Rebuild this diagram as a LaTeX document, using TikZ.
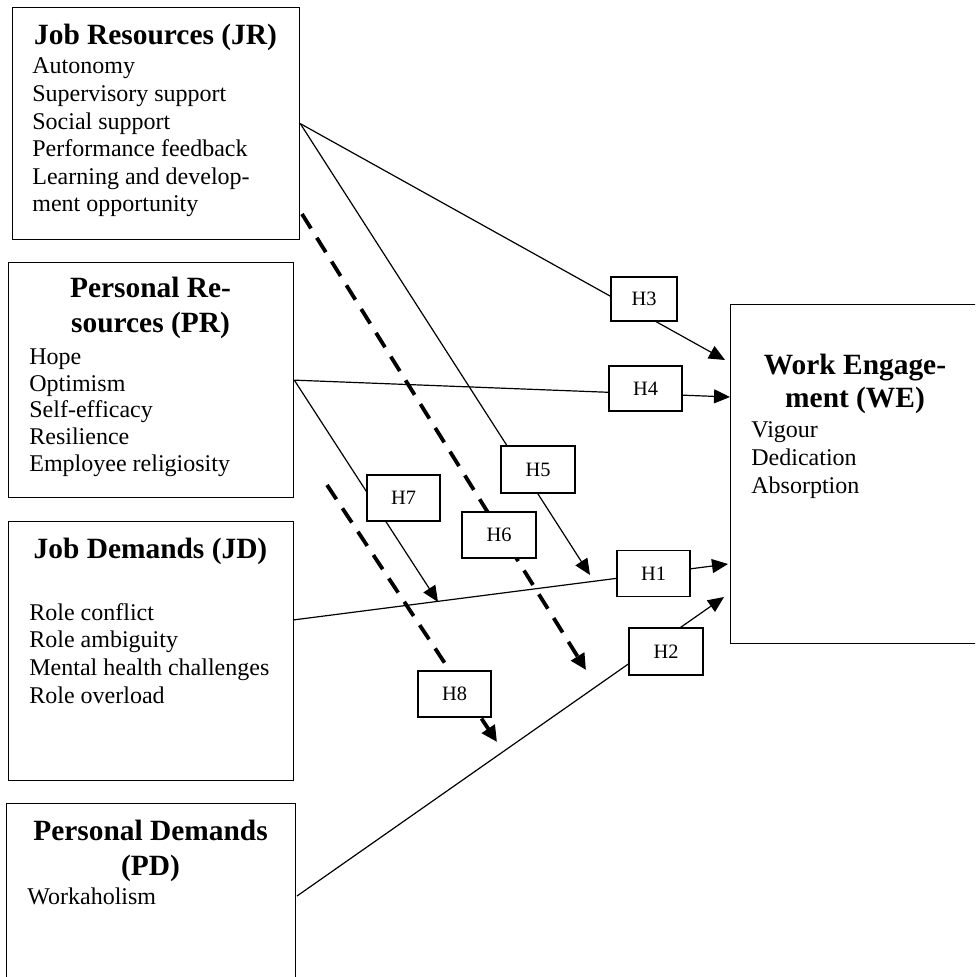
\documentclass[tikz,border=0pt]{standalone}
\usepackage{fontspec}
\setmainfont{Liberation Serif}
\usetikzlibrary{arrows.meta}
\tikzset{
  bigbox/.style={draw, line width=0.65pt, inner sep=0pt, anchor=north west},
  hbox/.style={draw, fill=white, line width=0.65pt, inner sep=0pt, font=\fontsize{10.2}{12}\selectfont},
  ttl/.style={inner sep=0pt, align=center, anchor=base, font=\bfseries\fontsize{14.7}{17.5}\selectfont},
  itm/.style={inner sep=0pt, align=left, anchor=base west, font=\fontsize{12}{13.8}\selectfont},
  conn/.style={line width=0.6pt, -{Triangle[length=8pt,width=7pt]}},
  dconn/.style={line width=1.9pt, dash pattern=on 8.5pt off 5.5pt, -{Triangle[length=8pt,width=7.5pt]}}
}
\begin{document}
\begin{tikzpicture}[x=0.5pt,y=-0.5pt]
\useasboundingbox (0,0) rectangle (975,977);
\clip (0,0) rectangle (975,977);

% main boxes
\node[bigbox, minimum width=143.5pt, minimum height=116pt] (jr) at (12,7) {};
\node[bigbox, minimum width=142.5pt, minimum height=117.5pt] (pr) at (8,262) {};
\node[bigbox, minimum width=142.5pt, minimum height=129.5pt] (jd) at (8,521) {};
\node[bigbox, minimum width=144.5pt, minimum height=110pt] (pd) at (6,803) {};
\node[bigbox, minimum width=125pt, minimum height=169.5pt] (we) at (730,304) {};

% texts (multi-line nodes are placed by the baseline of their last line)
\node[ttl] (jrt) at (155.5,45) {Job Resources (JR)};
\node[itm] (jri) at (32,212) {Autonomy\\Supervisory support\\Social support\\Performance feedback\\Learning and develop-\\ment opportunity};

\node[ttl] (prt) at (150.5,333) {Personal Re-\\sources (PR)};
\node[itm, font=\fontsize{12}{13.3}\selectfont] (pri) at (29,471) {Hope\\Optimism\\Self-efficacy\\Resilience\\Employee religiosity};

\node[ttl] (jdt) at (150.5,558) {Job Demands (JD)};
\node[itm] (jdi) at (29,703) {Role conflict\\Role ambiguity\\Mental health challenges\\Role overload};

\node[ttl] (pdt) at (150.5,875) {Personal Demands\\(PD)};
\node[itm] (pdi) at (27,904) {Workaholism};

\node[ttl, font=\bfseries\fontsize{14.7}{16.5}\selectfont] (wet) at (855,408) {Work Engage-\\ment (WE)};
\node[itm] (wei) at (751,493) {Vigour\\Dedication\\Absorption};

% connector start and end points
\coordinate (jdo) at (293,620);
\coordinate (pdo) at (297,896);
\coordinate (t3) at (725,360);
\coordinate (t4) at (730,397);
\coordinate (t1) at (728,564);
\coordinate (t2) at (724,597);
\coordinate (t5) at (590,575);
\coordinate (t7) at (438,602);
\coordinate (s6) at (302,214);
\coordinate (t6) at (586,670);
\coordinate (s8) at (327,485);
\coordinate (t8) at (497,742);

% connectors
\draw[conn] (jr.east) -- (t3);
\draw[conn] (jr.east) -- (t5);
\draw[conn] (pr.east) -- (t4);
\draw[conn] (pr.east) -- (t7);
\draw[conn] (jdo) -- (t1);
\draw[conn] (pdo) -- (t2);
\draw[dconn] (s6) -- (t6);
\draw[dconn] (s8) -- (t8);

% hypothesis labels
\node[hbox, minimum width=33pt, minimum height=22pt] (h3) at (644,299) {H3};
\node[hbox, minimum width=36.5pt, minimum height=22.5pt] (h4) at (645.5,388.5) {H4};
\node[hbox, minimum width=36.5pt, minimum height=23pt] (h1) at (653.5,573.5) {H1};
\node[hbox, minimum width=37pt, minimum height=23.5pt] (h2) at (666,651.5) {H2};
\node[hbox, minimum width=37pt, minimum height=23.5pt] (h5) at (538,469.5) {H5};
\node[hbox, minimum width=37pt, minimum height=23pt] (h6) at (499,535) {H6};
\node[hbox, minimum width=36.5pt, minimum height=23pt] (h7) at (403.5,498) {H7};
\node[hbox, minimum width=36.5pt, minimum height=23pt] (h8) at (454.5,694) {H8};
\end{tikzpicture}
\end{document}
